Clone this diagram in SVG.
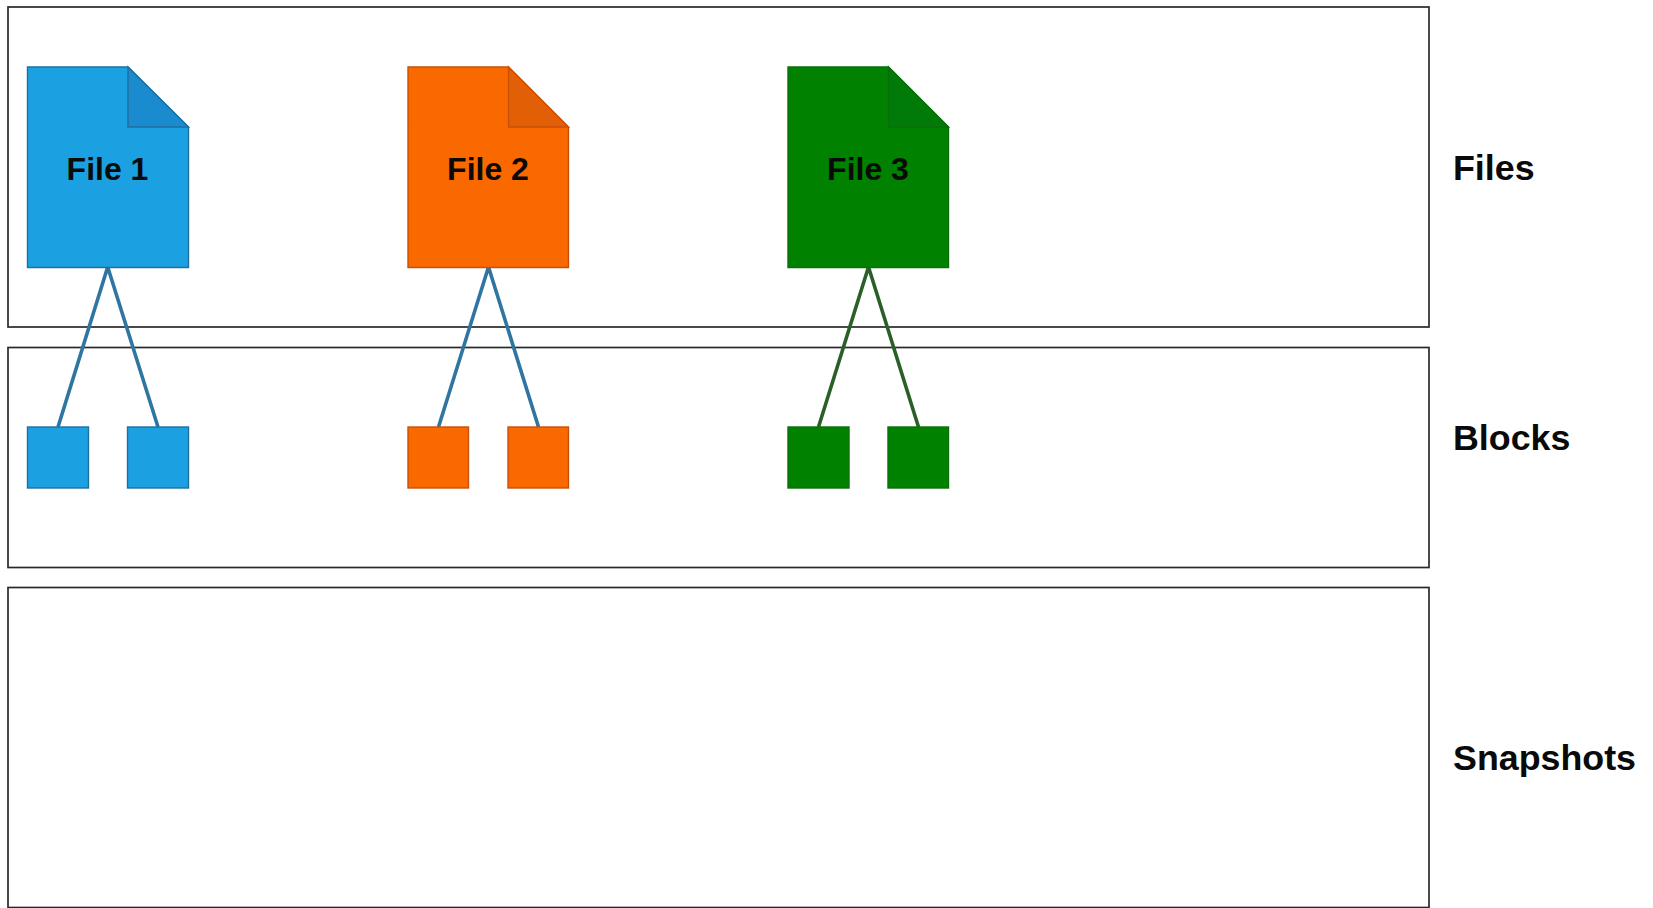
<svg xmlns="http://www.w3.org/2000/svg" width="1653" height="908" viewBox="0 0 1653 908">
<defs>
<style>
text{font-family:"Liberation Sans",Arial,sans-serif;font-weight:bold;fill:#0a0a0a}
.panel{fill:none;stroke:#2a2a2a;stroke-width:1.7}
.ft{font-size:32px;text-anchor:middle}
.lb{font-size:35.8px}
.blue{fill:#1ba1e2;stroke:#1f6f9f;stroke-width:1.4}
.blue2{fill:#1a8bcf;stroke:#1f6f9f;stroke-width:1.4}
.orange{fill:#fa6800;stroke:#c8500a;stroke-width:1.4}
.orange2{fill:#e25f05;stroke:#c8500a;stroke-width:1.4}
.green{fill:#008200;stroke:#0a6e0a;stroke-width:1.4}
.green2{fill:#007a08;stroke:#0a6e0a;stroke-width:1.4}
.cb{fill:none;stroke:#2f75a2;stroke-width:3.6}
.cg{fill:none;stroke:#2a5f2a;stroke-width:3.6}
</style>
</defs>
<rect width="1653" height="908" fill="#fff"/>
<g id="panels">
<rect id="panel-files" class="panel" x="8" y="7" width="1421" height="320"/>
<rect id="panel-blocks" class="panel" x="8" y="347.500" width="1421" height="220"/>
<rect id="panel-snapshots" class="panel" x="8" y="587.500" width="1421" height="320"/>
</g>
<g id="connectors">
<path class="cb" d="M58 427 107.700 267 158 427"/>
<path class="cb" d="M438.500 427 488.500 267 538.500 427"/>
<path class="cg" d="M818.500 427 868.500 267 918.500 427"/>
</g>
<g id="file1">
<path class="blue" d="M27.500 67H128L188.500 127V267.500H27.500Z"/>
<path class="blue2" d="M128 67L188.500 127H128Z"/>
<text class="ft" x="107.500" y="180">File 1</text>
</g>
<g id="file2">
<path class="orange" d="M408 67H508.500L568.500 127V267.500H408Z"/>
<path class="orange2" d="M508.500 67L568.500 127H508.500Z"/>
<text class="ft" x="488" y="180">File 2</text>
</g>
<g id="file3">
<path class="green" d="M788 67H888.500L948.500 127V267.500H788Z"/>
<path class="green2" d="M888.500 67L948.500 127H888.500Z"/>
<text class="ft" x="868" y="180">File 3</text>
</g>
<g id="block1a"><rect class="blue" x="27.500" y="427" width="61" height="61"/></g>
<g id="block1b"><rect class="blue" x="127.500" y="427" width="61" height="61"/></g>
<g id="block2a"><rect class="orange" x="408" y="427" width="60.500" height="61"/></g>
<g id="block2b"><rect class="orange" x="508" y="427" width="60.500" height="61"/></g>
<g id="block3a"><rect class="green" x="788" y="427" width="61" height="61"/></g>
<g id="block3b"><rect class="green" x="888" y="427" width="60.500" height="61"/></g>
<g id="label-files"><text class="lb" x="1453" y="180">Files</text></g>
<g id="label-blocks"><text class="lb" x="1453" y="450">Blocks</text></g>
<g id="label-snapshots"><text class="lb" x="1453" y="770">Snapshots</text></g>
</svg>
